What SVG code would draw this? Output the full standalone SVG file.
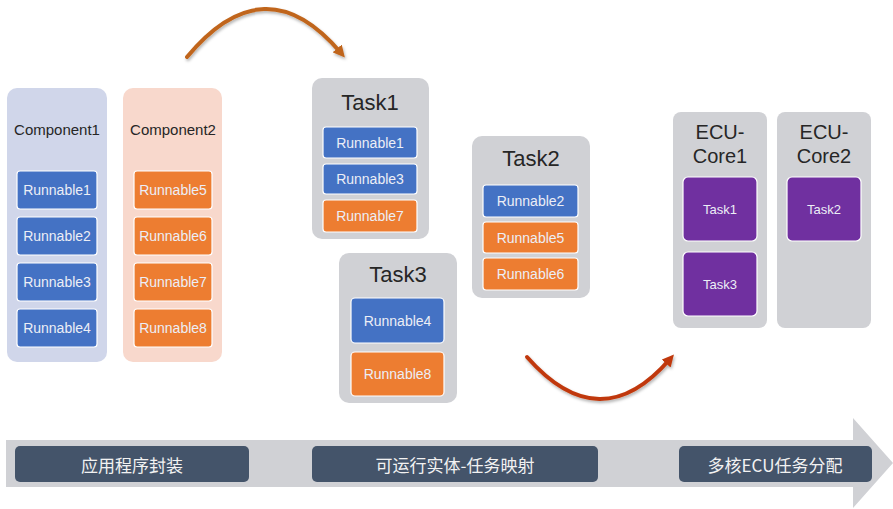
<svg xmlns="http://www.w3.org/2000/svg" width="893" height="509" viewBox="0 0 893 509">
<defs>
<style>
text{font-family:"Liberation Sans","Noto Sans",sans-serif;text-anchor:middle;dominant-baseline:central}
.cont{fill:#d0d1d5}
.r{stroke:#ffffff;stroke-width:1.2}
.blue{fill:#4472c4}
.orange{fill:#ed7d31}
.purple{fill:#7030a0}
.rt{fill:#eceef6;font-size:14px}
.pt{fill:#eceef6;font-size:13px}
.title{fill:#262626;font-size:22px}
.ecu{fill:#262626;font-size:20px}
.comp{fill:#262626;font-size:15px}
.stage{fill:#44546a}
.st{fill:#f2f2f2;font-size:17px;font-family:"Noto Sans CJK SC","Liberation Sans",sans-serif}
</style>
<filter id="sh" x="-20%" y="-20%" width="140%" height="160%">
<feDropShadow dx="1" dy="2" stdDeviation="1.5" flood-color="#000" flood-opacity="0.3"/>
</filter>
<marker id="ah1" viewBox="0 0 10 10" refX="5" refY="5" markerWidth="3" markerHeight="3" orient="auto"><path d="M0,0 L10,5 L0,10 Z" fill="#c0651b"/></marker>
<marker id="ah2" viewBox="0 0 10 10" refX="5" refY="5" markerWidth="3" markerHeight="3" orient="auto"><path d="M0,0 L10,5 L0,10 Z" fill="#c0390b"/></marker>
</defs>

<g id="timeline">
<path d="M6,440 H853 V418 L893,463 L853,508 V487 H6 Z" fill="#d0d1d5"/>
</g>

<g id="stage1"><rect class="stage" x="15" y="446" width="234" height="36" rx="5"/><text class="st" x="132" y="464">应用程序封装</text></g>
<g id="stage2"><rect class="stage" x="312" y="446" width="286" height="36" rx="5"/><text class="st" x="455" y="464">可运行实体-任务映射</text></g>
<g id="stage3"><rect class="stage" x="679" y="446" width="193" height="36" rx="5"/><text class="st" x="775" y="464">多核ECU任务分配</text></g>

<g id="component1">
<rect x="7" y="88" width="100" height="274" rx="10" fill="#d0d6ea"/>
<text class="comp" x="57" y="129">Component1</text>
<rect class="r blue" x="17" y="171" width="80" height="38" rx="3"/><text class="rt" x="57" y="190">Runnable1</text>
<rect class="r blue" x="17" y="217" width="80" height="38" rx="3"/><text class="rt" x="57" y="236">Runnable2</text>
<rect class="r blue" x="17" y="263" width="80" height="38" rx="3"/><text class="rt" x="57" y="282">Runnable3</text>
<rect class="r blue" x="17" y="309" width="80" height="38" rx="3"/><text class="rt" x="57" y="328">Runnable4</text>
</g>

<g id="component2">
<rect x="123" y="88" width="99" height="274" rx="10" fill="#f8d8cc"/>
<text class="comp" x="173" y="129">Component2</text>
<rect class="r orange" x="134" y="171" width="78" height="38" rx="3"/><text class="rt" x="173" y="190">Runnable5</text>
<rect class="r orange" x="134" y="217" width="78" height="38" rx="3"/><text class="rt" x="173" y="236">Runnable6</text>
<rect class="r orange" x="134" y="263" width="78" height="38" rx="3"/><text class="rt" x="173" y="282">Runnable7</text>
<rect class="r orange" x="134" y="309" width="78" height="38" rx="3"/><text class="rt" x="173" y="328">Runnable8</text>
</g>

<g id="task1">
<rect class="cont" x="312" y="78" width="117" height="161" rx="10"/>
<text class="title" x="370" y="102">Task1</text>
<rect class="r blue" x="323" y="127" width="94" height="31" rx="3"/><text class="rt" x="370" y="142.5">Runnable1</text>
<rect class="r blue" x="323" y="164" width="94" height="30" rx="3"/><text class="rt" x="370" y="179">Runnable3</text>
<rect class="r orange" x="323" y="200" width="94" height="32" rx="3"/><text class="rt" x="370" y="216">Runnable7</text>
</g>

<g id="task2">
<rect class="cont" x="472" y="136" width="118" height="162" rx="10"/>
<text class="title" x="531" y="158">Task2</text>
<rect class="r blue" x="483" y="185" width="95" height="32" rx="3"/><text class="rt" x="530.5" y="201">Runnable2</text>
<rect class="r orange" x="483" y="222" width="95" height="31" rx="3"/><text class="rt" x="530.5" y="237.5">Runnable5</text>
<rect class="r orange" x="483" y="258" width="95" height="32" rx="3"/><text class="rt" x="530.5" y="274">Runnable6</text>
</g>

<g id="task3">
<rect class="cont" x="339" y="253" width="118" height="150" rx="10"/>
<text class="title" x="398" y="274">Task3</text>
<rect class="r blue" x="351" y="298" width="93" height="45" rx="4"/><text class="rt" x="397.5" y="320.5">Runnable4</text>
<rect class="r orange" x="351" y="352" width="93" height="44" rx="4"/><text class="rt" x="397.5" y="374">Runnable8</text>
</g>

<g id="core1">
<rect class="cont" x="673" y="112" width="94" height="216" rx="8"/>
<text class="ecu" x="720" y="132">ECU-</text>
<text class="ecu" x="720" y="156">Core1</text>
<rect class="r purple" x="683" y="177" width="74" height="64" rx="5"/><text class="pt" x="720" y="209">Task1</text>
<rect class="r purple" x="683" y="252" width="74" height="64" rx="5"/><text class="pt" x="720" y="284">Task3</text>
</g>

<g id="core2">
<rect class="cont" x="777" y="112" width="94" height="216" rx="8"/>
<text class="ecu" x="824" y="132">ECU-</text>
<text class="ecu" x="824" y="156">Core2</text>
<rect class="r purple" x="787" y="177" width="74" height="64" rx="5"/><text class="pt" x="824" y="209">Task2</text>
</g>

<g id="connectors" fill="none" stroke-width="4" stroke-linecap="round">
<path d="M187,57 Q265,-37 341,53" stroke="#c0651b" marker-end="url(#ah1)" filter="url(#sh)"/>
<path d="M527,357 Q600,440 670,359" stroke="#c0390b" marker-end="url(#ah2)" filter="url(#sh)"/>
</g>
</svg>
